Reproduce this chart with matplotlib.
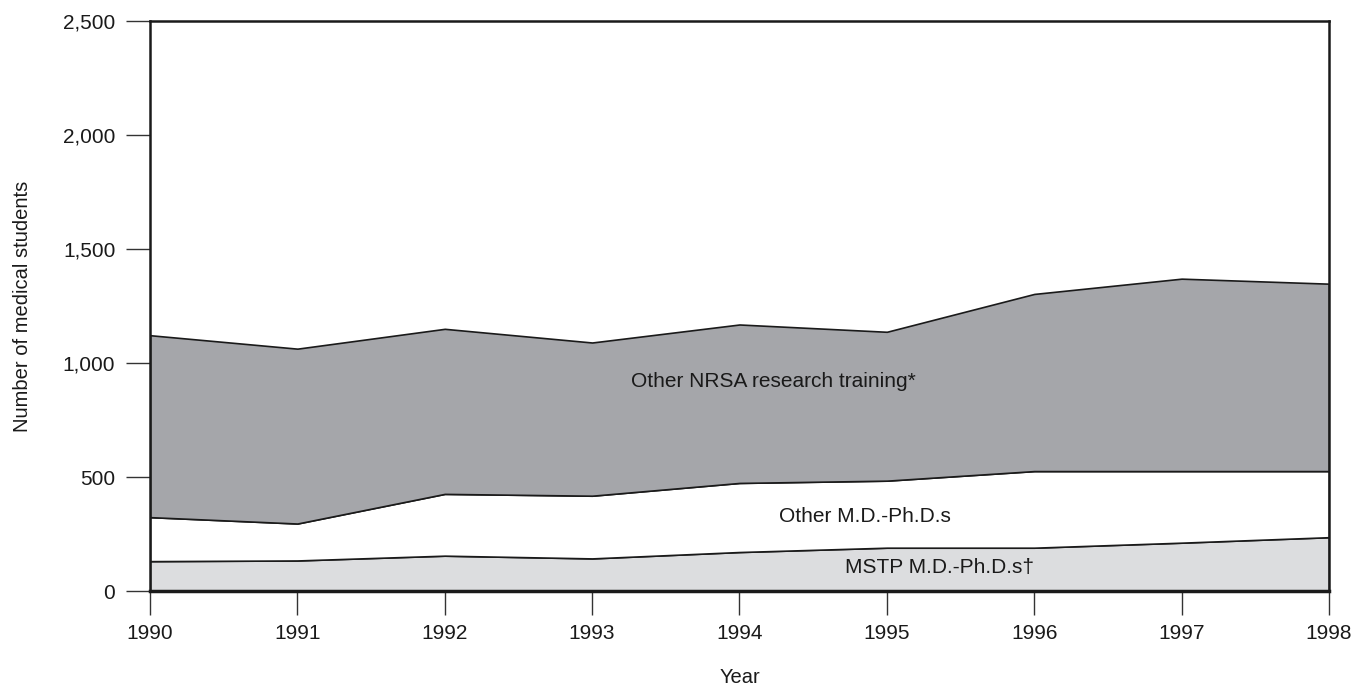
import matplotlib
matplotlib.use("Agg")
import matplotlib.pyplot as plt
from matplotlib.ticker import FuncFormatter
import numpy as np

plt.rcParams['font.family'] = ['Liberation Sans', 'DejaVu Sans']

years = [1990, 1991, 1992, 1993, 1994, 1995, 1996, 1997, 1998]
mstp = [131, 134, 155, 143, 171, 190, 190, 212, 236]
other_mdphd = [193, 162, 271, 275, 303, 294, 336, 314, 290]
other_nrsa = [798, 767, 724, 672, 695, 653, 777, 844, 822]

fig = plt.figure(figsize=(13.54, 6.85), dpi=100)
ax = fig.add_axes([0.1108, 0.1372, 0.8707, 0.8321])

ax.stackplot(years, mstp, other_mdphd, other_nrsa,
             colors=['#dcdddf', '#ffffff', '#a5a6aa'],
             edgecolor='#1a1a1a', linewidth=1.2)

ax.set_xlim(1990, 1998)
ax.set_ylim(0, 2500)
ax.set_xticks(years)
ax.set_yticks([0, 500, 1000, 1500, 2000, 2500])
ax.yaxis.set_major_formatter(FuncFormatter(lambda v, p: f"{int(v):,}"))
ax.tick_params(axis='both', direction='out', length=17, width=1, color='#333333',
               labelsize=15, colors='#1a1a1a')
ax.tick_params(axis='x', pad=7)
ax.tick_params(axis='y', pad=8)

for side in ['left', 'right', 'top']:
    ax.spines[side].set_linewidth(1.8)
    ax.spines[side].set_color('#1a1a1a')
ax.spines['bottom'].set_linewidth(2.5)
ax.spines['bottom'].set_color('#1a1a1a')

ax.set_xlabel('Year', fontsize=14.5, labelpad=18, color='#1a1a1a')
ax.set_ylabel('Number of medical students', fontsize=14.5, labelpad=22, color='#1a1a1a')

ax.text(1994.23, 921, 'Other NRSA research training*', ha='center', va='center',
        fontsize=15, color='#1a1a1a')
ax.text(1994.85, 329, 'Other M.D.-Ph.D.s', ha='center', va='center',
        fontsize=15, color='#1a1a1a')
ax.text(1995.36, 105, 'MSTP M.D.-Ph.D.s\u2020', ha='center', va='center',
        fontsize=15, color='#1a1a1a')

fig.savefig('out.png', dpi=100)
